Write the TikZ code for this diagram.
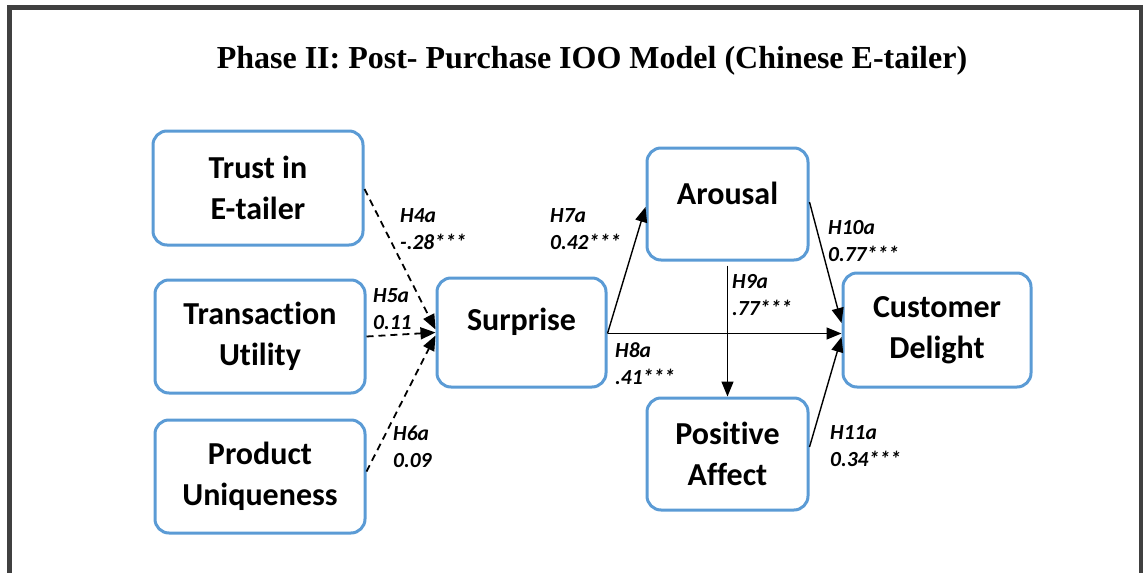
\documentclass[tikz,border=0pt]{standalone}
\usepackage{fontspec}
\setmainfont{Liberation Serif}
\newfontfamily\boxfont[Ligatures=NoCommon]{Carlito}
\usepackage{tikz}
\usetikzlibrary{arrows.meta}

\definecolor{boxblue}{HTML}{5B9BD5}
\definecolor{framegray}{HTML}{404040}

\tikzset{
	construct/.style={draw=boxblue, line width=3pt, rounded corners=14pt, align=center,
		font=\boxfont\bfseries\fontsize{32}{41}\selectfont},
	coef/.style={anchor=west, inner sep=0pt, align=left,
		font=\boxfont\bfseries\itshape\fontsize{21.5}{27}\selectfont},
	path/.style={line width=1.4pt, -{Triangle[length=15pt,width=12pt]}},
	weakpath/.style={path, line width=1.8pt, dash pattern=on 7pt off 5pt}
}

\begin{document}
\begin{tikzpicture}[x=1pt,y=-1pt]
	\useasboundingbox (0,0) rectangle (1144,573);
	\draw[framegray, line width=4.5pt] (9.5,580) -- (9.5,7.5) -- (1141,7.5) -- (1141,580);

	\node (title) at (592,61) {\fontsize{32}{38}\selectfont\bfseries Phase II: Post- Purchase IOO Model (Chinese E-tailer)};

	\node[construct, minimum width=210pt, minimum height=114pt] (trust) at (258,188) {Trust in\\E-tailer};
	\node[construct, minimum width=210pt, minimum height=113pt] (util) at (260,336.5) {Transaction\\Utility};
	\node[construct, minimum width=210pt, minimum height=113pt] (uniq) at (260,476.5) {Product\\Uniqueness};
	\node[construct, minimum width=169pt, minimum height=109pt] (surp) at (521.5,332.5) {\raisebox{11pt}[\height][\depth]{Surprise}};
	\node[construct, minimum width=161pt, minimum height=112pt] (arou) at (727.5,204) {\raisebox{11pt}[\height][\depth]{Arousal}};
	\node[construct, minimum width=161pt, minimum height=112pt] (posi) at (727.5,454) {Positive\\Affect};
	\node[construct, minimum width=188pt, minimum height=114pt] (delight) at (937,330) {Customer\\Delight};

	\node[coef] (h4a) at (400,229.5) {H4a\\-.28***};
	\node[coef] (h5a) at (373,309) {H5a\\0.11};
	\node[coef] (h6a) at (393,446.5) {H6a\\0.09};
	\node[coef] (h7a) at (550,229.5) {H7a\\0.42***};
	\node[coef] (h8a) at (615,363.5) {H8a\\.41***};
	\node[coef] (h9a) at (732,295) {H9a\\.77***};
	\node[coef] (h10a) at (828,241) {H10a\\0.77***};
	\node[coef] (h11a) at (830,446) {H11a\\0.34***};

	\begin{scope}[every path/.style={weakpath}]
		\draw ([yshift=-1pt]trust.east) -- ([yshift=3pt]surp.west);
		\draw (util.east) -- (surp.west);
		\draw ([yshift=5pt]uniq.east) -- ([yshift=-3pt]surp.west);
	\end{scope}

	\begin{scope}[every path/.style={path}]
		\draw ([yshift=-1pt]surp.east) -- ([yshift=-3pt]arou.west);
		\draw ([yshift=-1pt]surp.east) -- ([yshift=-1pt]surp.east -| delight.west);
		\draw ([yshift=-4pt]arou.south) -- (posi.north);
		\draw ([yshift=2pt]arou.east) -- ([yshift=7pt]delight.west);
		\draw ([yshift=7pt]posi.east) -- ([yshift=-7pt]delight.west);
	\end{scope}
\end{tikzpicture}
\end{document}
